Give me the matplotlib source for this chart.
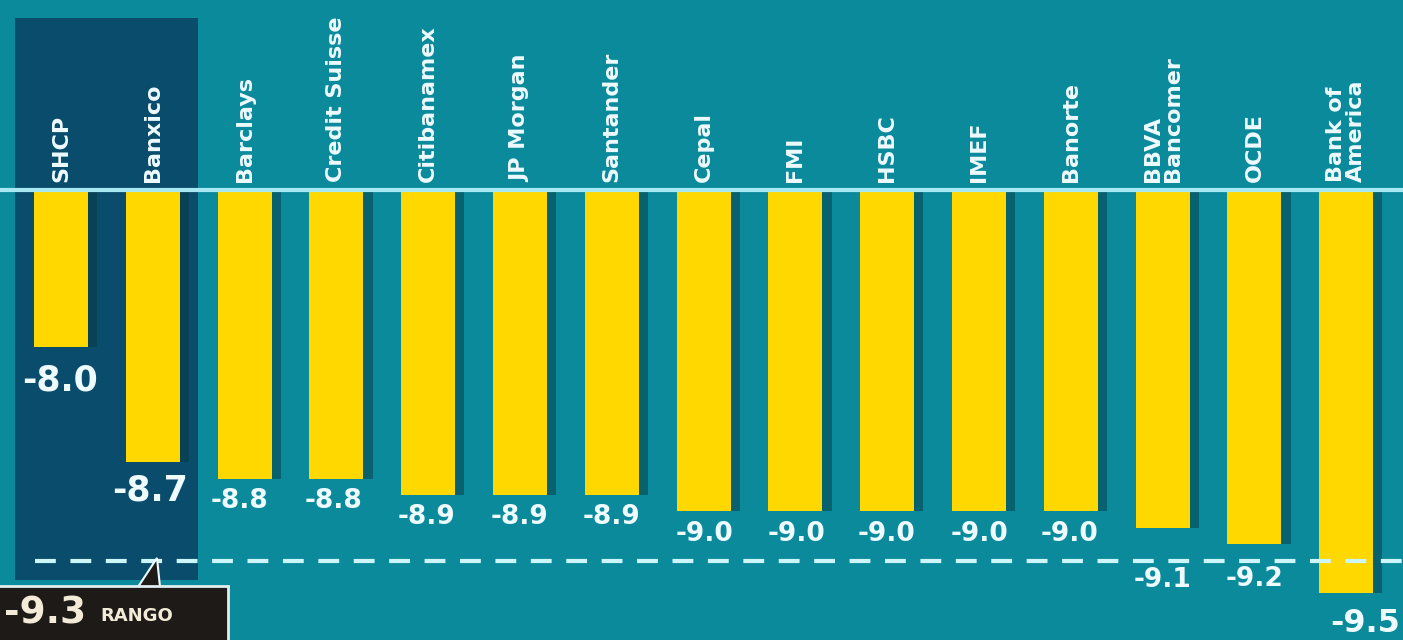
import matplotlib
matplotlib.use("Agg")
import matplotlib.pyplot as plt
from matplotlib.patches import Rectangle, Polygon

# ---- data ----
categories = ["SHCP", "Banxico", "Barclays", "Credit Suisse", "Citibanamex",
              "JP Morgan", "Santander", "Cepal", "FMI", "HSBC", "IMEF",
              "Banorte", "BBVA\nBancomer", "OCDE", "Bank of\nAmerica"]
values = [-8.0, -8.7, -8.8, -8.8, -8.9, -8.9, -8.9, -9.0, -9.0, -9.0, -9.0,
          -9.0, -9.1, -9.2, -9.5]
value_labels = ["-8.0", "-8.7", "-8.8", "-8.8", "-8.9", "-8.9", "-8.9", "-9.0",
                "-9.0", "-9.0", "-9.0", "-9.0", "-9.1", "-9.2", "-9.5"]
range_value = -9.3
range_label = "-9.3"
range_word = "RANGO"

# ---- style ----
BG = "#0b8a9c"
BOX = "#0a4c6c"
YEL = "#ffd800"
TXT = "#eefbff"
LINE = "#a8e8f2"
PX = 164.0          # pixels per 1.0 value
BASE = -7.04        # baseline value (pixel row 190)
Y_TOP = BASE + 190 / PX
Y_BOT = BASE - 450 / PX
STEP = 91.8
X0 = 61.0
X_LEFT = -X0 / STEP
X_RIGHT = (1403 - X0) / STEP

def px_x(p):
    return (p - X0) / STEP

def px_y(p):
    return BASE - (p - 190) / PX

fig = plt.figure(figsize=(14.03, 6.4), dpi=100, facecolor=BG)
ax = fig.add_axes([0, 0, 1, 1])
ax.set_facecolor(BG)
ax.set_xlim(X_LEFT, X_RIGHT)
ax.set_ylim(Y_BOT, Y_TOP)
ax.axis("off")

# dark highlight box behind SHCP / Banxico
ax.add_patch(Rectangle((px_x(15), px_y(580)), px_x(198) - px_x(15),
                       px_y(18) - px_y(580), facecolor=BOX, edgecolor="none", zorder=0))

xs = list(range(len(categories)))
heights = [v - BASE for v in values]
W = 0.59
# shadow bars
ax.bar([x + 0.10 for x in xs], heights, width=W, bottom=BASE, color="#063a44",
       alpha=0.5, zorder=1, edgecolor="none")
ax.bar(xs, heights, width=W, bottom=BASE, color=YEL, zorder=2, edgecolor="none")

# baseline
ax.axhline(BASE, color=LINE, lw=3, zorder=3)

# dashed range line
ax.plot([px_x(35), X_RIGHT], [range_value, range_value], color="#cdf6fa", lw=3,
        dashes=(5, 3.5), zorder=4)

# category labels
for x, c in zip(xs, categories):
    ax.text(x, px_y(182), c, rotation=90, ha="center", va="bottom",
            color=TXT, fontsize=16, fontweight="bold", multialignment="left",
            linespacing=1.0, zorder=5)

# value labels
lab_dy = [33, 28, 22, 22, 22, 22, 22, 23, 23, 23, 23, 23, 52, 35, 30]
lab_dx = [-1, -3, -5, -3, -2, -1, 0, 1, 1, -1, 0, -1, 0, 0, 19]
lab_fs = [25, 25, 19, 19, 19, 19, 19, 19, 19, 19, 19, 19, 19, 19, 23]
lab_bold = [True, True, False, False, False, False, False, False, False, False,
            False, False, False, False, True]
for i, (x, v, t) in enumerate(zip(xs, values, value_labels)):
    ax.text(x + lab_dx[i] / STEP, v - lab_dy[i] / PX, t, ha="center",
            va="center", color=TXT, fontsize=lab_fs[i],
            fontweight="bold" if lab_bold[i] else "semibold", zorder=5)

# RANGO callout box
ax.add_patch(Polygon([(px_x(138), px_y(587)), (px_x(157), px_y(558)),
                      (px_x(160), px_y(587))], closed=True,
                     facecolor="#1d1a17", edgecolor=TXT, lw=1.5, zorder=6))
ax.add_patch(Rectangle((px_x(-5), px_y(650)), px_x(228) - px_x(-5),
                       px_y(586) - px_y(650), facecolor="#1d1a17",
                       edgecolor="#dfeff0", lw=2, zorder=7))
ax.text(px_x(4), px_y(614), range_label, ha="left", va="center", color="#f3ead8",
        fontsize=27, fontweight="bold", zorder=8)
ax.text(px_x(100), px_y(616), range_word, ha="left", va="center", color="#f3ead8",
        fontsize=13, fontweight="bold", zorder=8)

fig.savefig("out.png", dpi=100, facecolor=BG)
